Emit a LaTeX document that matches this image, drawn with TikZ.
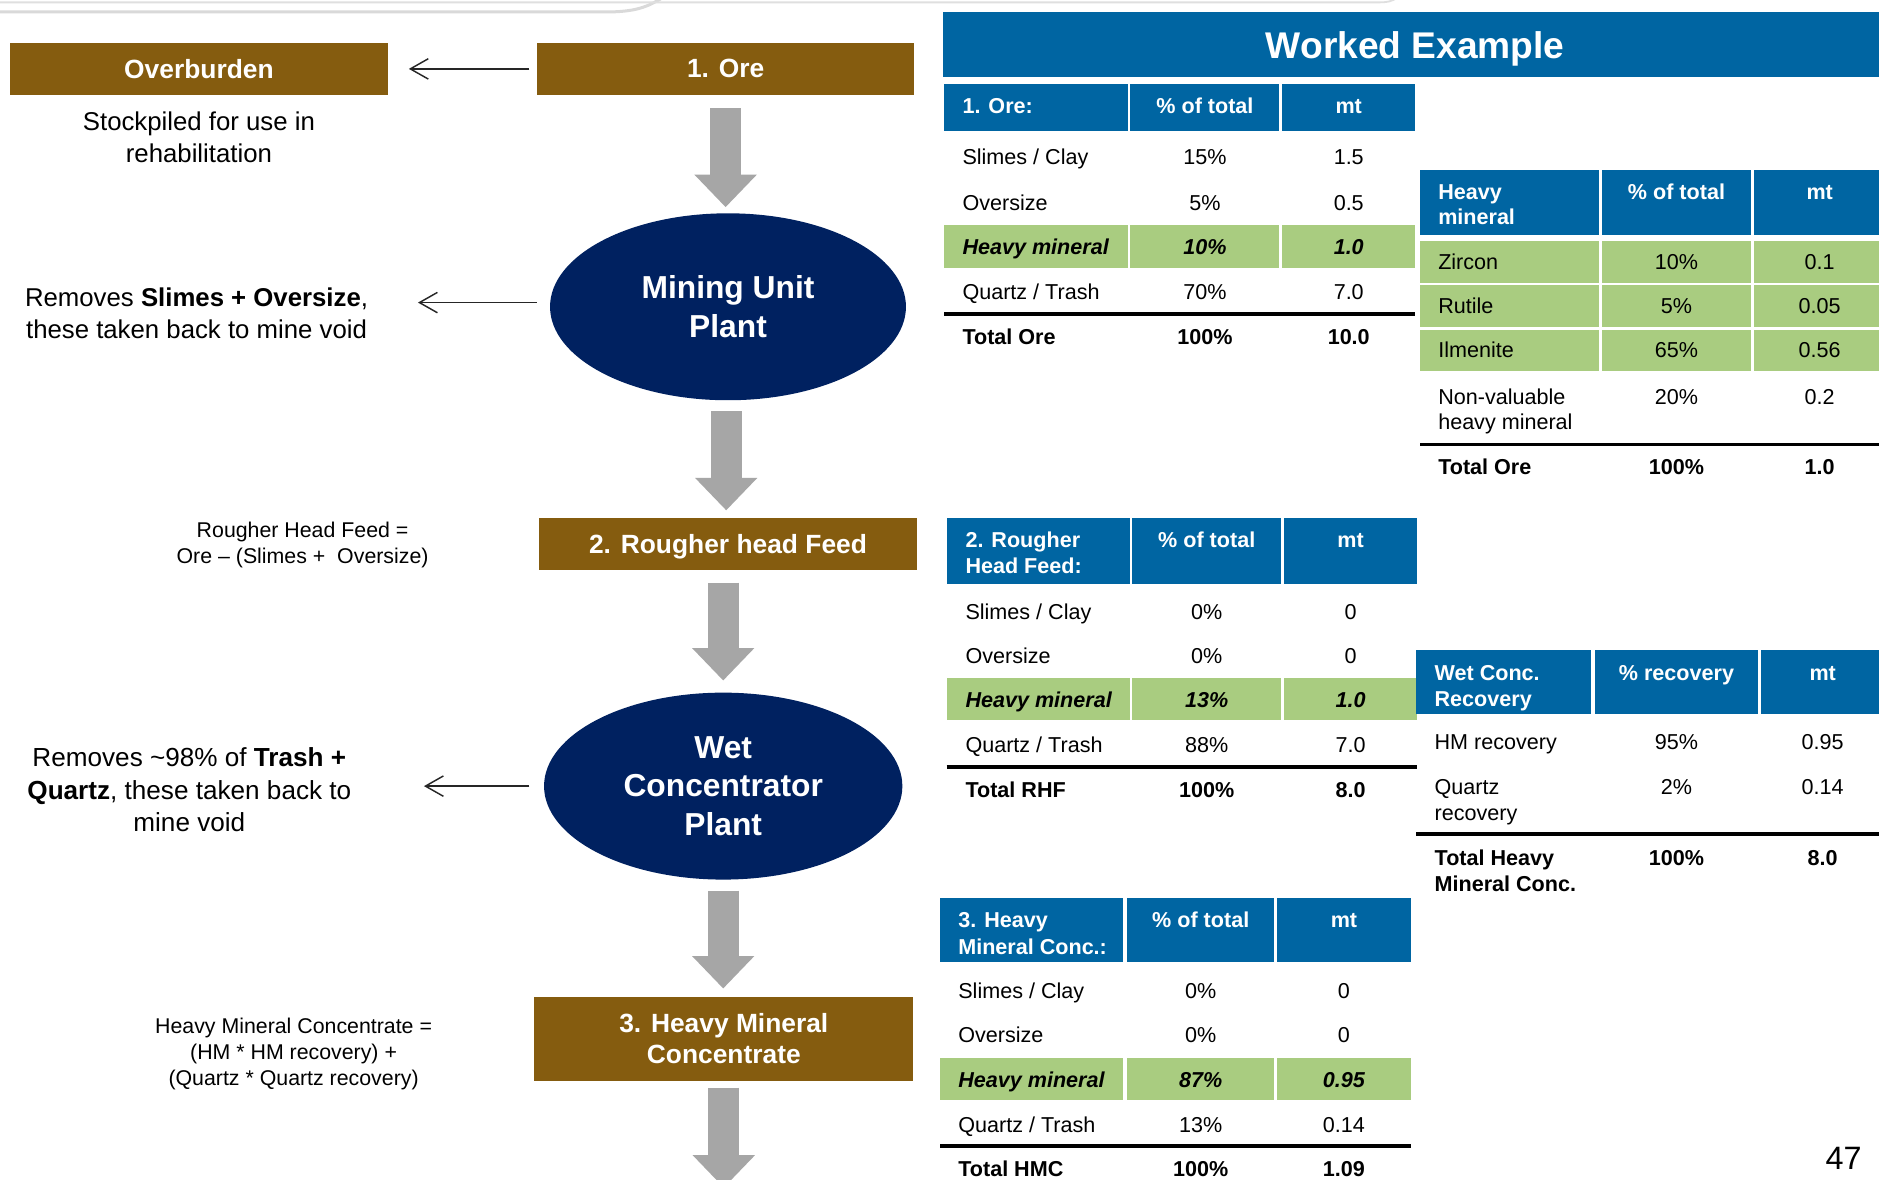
\documentclass[tikz,border=0pt]{standalone}
\usepackage{fontspec}
\setmainfont{Liberation Sans}
\usetikzlibrary{shapes.geometric,arrows.meta,calc}
\definecolor{brownbox}{HTML}{855C0F}
\definecolor{navyell}{HTML}{002160}
\definecolor{hblue}{HTML}{0065A2}
\definecolor{hgreen}{HTML}{A9CC80}
\definecolor{agray}{HTML}{A6A6A6}
\newcommand\fsz[2]{\fontsize{#1}{#2}\selectfont}
\newcommand\tabfont{\fsz{18}{21}}
\newcommand\cellL[5][]{\node[txL,#1] (#2) at (#3,#4) {#5};}
\newcommand\cellC[5][]{\node[txC,#1] (#2) at (#3,#4) {#5};}
\begin{document}
\begin{tikzpicture}[x=1pt,y=-1pt,
  box/.style={fill=brownbox, text=white, font=\fsz{22}{26}\bfseries, minimum width=315pt, inner sep=0pt, align=center},
  plant/.style={ellipse, fill=navyell, text=white, font=\fsz{26.5}{32}\bfseries, inner sep=0pt, align=center},
  side/.style={align=center, inner sep=0pt, font=\fsz{21.5}{26.5}},
  formula/.style={align=center, inner sep=0pt, font=\fsz{17.8}{21.7}},
  fatarrow/.style={draw=agray, line width=26pt, -{Triangle[length=27pt,width=52pt,line width=0pt]}},
  thinarrow/.style={draw=black!85, line width=1.2pt, -{Straight Barb[length=15pt,width=17pt,line width=1.2pt]}},
  txL/.style={anchor=mid west, inner sep=0pt, yshift=-3pt, font=\tabfont},
  txC/.style={anchor=mid, inner sep=0pt, yshift=-3pt, font=\tabfont},
  hd/.style={text=white, font=\tabfont\bfseries},
  gr/.style={font=\tabfont\bfseries\itshape},
  tot/.style={font=\tabfont\bfseries},
  hdrfill/.style={fill=hblue},
  grfill/.style={fill=hgreen},
  rule/.style={line width=3pt, black}
]
\useasboundingbox (0,0) rectangle (1568,984);
\fill[white] (0,0) rectangle (1568,984);

% top slide decoration
\draw[gray!30, line width=2.5pt] (0,10) -- (505,10) .. controls (530,10) and (540,6) .. (553,-2);
\draw[gray!25, line width=1.5pt] (0,2) -- (1150,2) .. controls (1158,2) and (1162,1) .. (1166,-2);

% ---------------- flow chart ----------------
\node[box, minimum height=43pt] (over) at (166,57.5) {Overburden};
\node[box, minimum height=43pt] (ore) at (605.5,57.5) {1. Ore};
\node[plant, minimum width=297pt, minimum height=156pt] (mining) at (607.5,256) {Mining Unit\\Plant};
\node[box, minimum height=44pt, text depth=0pt] (rough) at (607.5,454) {2. Rougher head Feed};
\node[plant, minimum width=299pt, minimum height=156pt] (wet) at (603.5,656) {Wet\\Concentrator\\Plant};
\node[box, minimum width=316pt, minimum height=70pt] (hmc) at (604,867) {3. Heavy Mineral\\Concentrate};
\coordinate (hmcout) at (604,991);

\draw[fatarrow] ($(ore.south)+(0,11)$) -- ($(ore.south |- mining.north)+(0,-5)$);
\draw[fatarrow] ($(mining.south)+(-1.5,9)$) -- ($(mining.south |- rough.north)+(-1.5,-6)$);
\draw[fatarrow] ($(wet.north |- rough.south)+(0,10)$) -- ($(wet.north)+(0,-10)$);
\draw[fatarrow] ($(wet.south)+(0,9)$) -- ($(wet.south |- hmc.north)+(0,-7)$);
\draw[fatarrow] ($(hmc.south)+(0,5.5)$) -- (hmcout);

\node[side] (stock) at (166,114.5) {Stockpiled for use in\\rehabilitation};
\node[side] (rem1) at (164,261.5) {Removes \textbf{Slimes + Oversize},\\these taken back to mine void};
\node[formula] (rhf) at (252.5,455) {Rougher Head Feed =\\Ore -- (Slimes +\ \ Oversize)};
\node[side, font=\fsz{21.8}{26.8}] (rem2) at (158,659) {Removes \textasciitilde98\% of \textbf{Trash +}\\\textbf{Quartz}, these taken back to\\mine void};
\node[formula] (hmcf) at (245,879.5) {Heavy Mineral Concentrate =\\(HM * HM recovery) +\\(Quartz * Quartz recovery)};

\draw[thinarrow] ($(ore.west)+(-6,0)$) -- ($(over.east)+(17.5,0)$);
\draw[thinarrow] ($(mining.west)+(-11,-3.5)$) -- ++(-99,0);
\draw[thinarrow] ($(wet.west)+(-12,0)$) -- ++(-88,0);

% ---------------- Worked example header ----------------
\fill[hdrfill] (787,10) rectangle (1568,64);
\node[text=white, font=\fsz{31}{36}\bfseries, inner sep=0pt] (we) at (1181,40.5) {Worked Example};

% ---------------- Table 1: Ore ----------------
\fill[hdrfill] (788,70) rectangle (941,109);
\fill[hdrfill] (943,70) rectangle (1067,109);
\fill[hdrfill] (1070,70) rectangle (1181,109);
\fill[grfill] (788,188) rectangle (941,224);
\fill[grfill] (943,188) rectangle (1067,224);
\fill[grfill] (1070,188) rectangle (1181,224);
\draw[rule] (788,262) -- (1181,262);
\cellL[hd]{a11}{803}{89}{1. Ore:}
\cellC[hd]{a12}{1005.5}{89}{\% of total}
\cellC[hd]{a13}{1125.5}{89}{mt}
\cellL{a21}{803}{132}{Slimes / Clay}
\cellC{a22}{1005.5}{132}{15\%}
\cellC{a23}{1125.5}{132}{1.5}
\cellL{a31}{803}{170}{Oversize}
\cellC{a32}{1005.5}{170}{5\%}
\cellC{a33}{1125.5}{170}{0.5}
\cellL[gr]{a41}{803}{207}{Heavy mineral}
\cellC[gr]{a42}{1005.5}{207}{10\%}
\cellC[gr]{a43}{1125.5}{207}{1.0}
\cellL{a51}{803}{244}{Quartz / Trash}
\cellC{a52}{1005.5}{244}{70\%}
\cellC{a53}{1125.5}{244}{7.0}
\cellL[tot]{a61}{803}{282}{Total Ore}
\cellC[tot]{a62}{1005.5}{282}{100\%}
\cellC[tot]{a63}{1125.5}{282}{10.0}

% ---------------- Table 2: Heavy mineral ----------------
\fill[hdrfill] (1185,142) rectangle (1334,196);
\fill[hdrfill] (1337,142) rectangle (1461,196);
\fill[hdrfill] (1464,142) rectangle (1568,196);
\foreach \ya/\yb in {201/236, 238/273, 275/310}{
  \fill[grfill] (1185,\ya) rectangle (1334,\yb);
  \fill[grfill] (1337,\ya) rectangle (1461,\yb);
  \fill[grfill] (1464,\ya) rectangle (1568,\yb);
}
\draw[rule] (1185,371) -- (1568,371);
\cellL[hd]{b11}{1200}{161}{Heavy}
\cellL[hd]{b11b}{1200}{182}{mineral}
\cellC[hd]{b12}{1399}{161}{\% of total}
\cellC[hd]{b13}{1518.5}{161}{mt}
\cellL{b21}{1200}{219}{Zircon}
\cellC{b22}{1399}{219}{10\%}
\cellC{b23}{1518.5}{219}{0.1}
\cellL{b31}{1200}{256}{Rutile}
\cellC{b32}{1399}{256}{5\%}
\cellC{b33}{1518.5}{256}{0.05}
\cellL{b41}{1200}{293}{Ilmenite}
\cellC{b42}{1399}{293}{65\%}
\cellC{b43}{1518.5}{293}{0.56}
\cellL{b51}{1200}{332}{Non-valuable}
\cellL{b51b}{1200}{353}{heavy mineral}
\cellC{b52}{1399}{332}{20\%}
\cellC{b53}{1518.5}{332}{0.2}
\cellL[tot]{b61}{1200}{390}{Total Ore}
\cellC[tot]{b62}{1399}{390}{100\%}
\cellC[tot]{b63}{1518.5}{390}{1.0}

% ---------------- Table 3: Rougher head feed ----------------
\fill[hdrfill] (790,432) rectangle (943,487);
\fill[hdrfill] (945,432) rectangle (1069,487);
\fill[hdrfill] (1071.5,432) rectangle (1182.5,487);
\fill[grfill] (790,566) rectangle (943,601);
\fill[grfill] (945,566) rectangle (1069,601);
\fill[grfill] (1071.5,566) rectangle (1182.5,601);
\draw[rule] (790,640) -- (1182.5,640);
\cellL[hd]{c11}{805.5}{451.5}{2. Rougher}
\cellL[hd]{c11b}{805.5}{473}{Head Feed:}
\cellC[hd]{c12}{1007}{451.5}{\% of total}
\cellC[hd]{c13}{1127}{451.5}{mt}
\cellL{c21}{805.5}{511}{Slimes / Clay}
\cellC{c22}{1007}{511}{0\%}
\cellC{c23}{1127}{511}{0}
\cellL{c31}{805.5}{548}{Oversize}
\cellC{c32}{1007}{548}{0\%}
\cellC{c33}{1127}{548}{0}
\cellL[gr]{c41}{805.5}{584.5}{Heavy mineral}
\cellC[gr]{c42}{1007}{584.5}{13\%}
\cellC[gr]{c43}{1127}{584.5}{1.0}
\cellL{c51}{805.5}{622.5}{Quartz / Trash}
\cellC{c52}{1007}{622.5}{88\%}
\cellC{c53}{1127}{622.5}{7.0}
\cellL[tot]{c61}{805.5}{660}{Total RHF}
\cellC[tot]{c62}{1007}{660}{100\%}
\cellC[tot]{c63}{1127}{660}{8.0}

% ---------------- Table 4: Wet conc. recovery ----------------
\fill[hdrfill] (1181.7,542) rectangle (1328,596);
\fill[hdrfill] (1330.6,542) rectangle (1467,596);
\fill[hdrfill] (1469.6,542) rectangle (1568,596);
\draw[rule] (1181.7,696) -- (1568,696);
\cellL[hd]{d11}{1197}{562}{Wet Conc.}
\cellL[hd]{d11b}{1197}{584}{Recovery}
\cellC[hd]{d12}{1399}{562}{\% recovery}
\cellC[hd]{d13}{1521}{562}{mt}
\cellL{d21}{1197}{620}{HM recovery}
\cellC{d22}{1399}{620}{95\%}
\cellC{d23}{1521}{620}{0.95}
\cellL{d31}{1197}{657.5}{Quartz}
\cellL{d31b}{1197}{679}{recovery}
\cellC{d32}{1399}{657.5}{2\%}
\cellC{d33}{1521}{657.5}{0.14}
\cellL[tot]{d41}{1197}{717}{Total Heavy}
\cellL[tot]{d41b}{1197}{738}{Mineral Conc.}
\cellC[tot]{d42}{1399}{717}{100\%}
\cellC[tot]{d43}{1521}{717}{8.0}

% ---------------- Table 5: HMC ----------------
\fill[hdrfill] (784.5,749.5) rectangle (937,803);
\fill[hdrfill] (940.5,749.5) rectangle (1063,803);
\fill[hdrfill] (1066,749.5) rectangle (1177.5,803);
\fill[grfill] (784.5,883) rectangle (937,918);
\fill[grfill] (940.5,883) rectangle (1063,918);
\fill[grfill] (1066,883) rectangle (1177.5,918);
\draw[rule] (784.5,956.5) -- (1177.5,956.5);
\cellL[hd]{e11}{799.5}{768.5}{3. Heavy}
\cellL[hd]{e11b}{799.5}{790.5}{Mineral Conc.:}
\cellC[hd]{e12}{1002}{768.5}{\% of total}
\cellC[hd]{e13}{1121.5}{768.5}{mt}
\cellL{e21}{799.5}{827.5}{Slimes / Clay}
\cellC{e22}{1002}{827.5}{0\%}
\cellC{e23}{1121.5}{827.5}{0}
\cellL{e31}{799.5}{864}{Oversize}
\cellC{e32}{1002}{864}{0\%}
\cellC{e33}{1121.5}{864}{0}
\cellL[gr]{e41}{799.5}{901.5}{Heavy mineral}
\cellC[gr]{e42}{1002}{901.5}{87\%}
\cellC[gr]{e43}{1121.5}{901.5}{0.95}
\cellL{e51}{799.5}{939}{Quartz / Trash}
\cellC{e52}{1002}{939}{13\%}
\cellC{e53}{1121.5}{939}{0.14}
\cellL[tot]{e61}{799.5}{976.5}{Total HMC}
\cellC[tot]{e62}{1002}{976.5}{100\%}
\cellC[tot]{e63}{1121.5}{976.5}{1.09}

\node[inner sep=0pt, font=\fsz{27}{32}] (pagenum) at (1538.5,967) {47};
\end{tikzpicture}
\end{document}
